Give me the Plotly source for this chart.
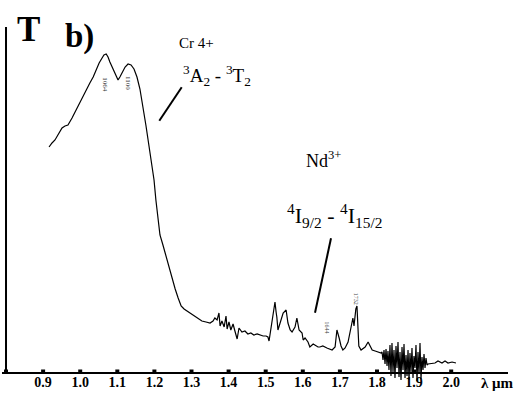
import plotly.graph_objects as go

# Transmission spectrum (arbitrary units)
wavelength_um = [
    0.916, 0.919, 0.924, 0.932, 0.940, 0.951, 0.959, 0.967, 0.978, 0.986,
    0.994, 1.002, 1.010, 1.018, 1.026, 1.035, 1.043, 1.051, 1.059, 1.064,
    1.070, 1.075, 1.080, 1.088, 1.096, 1.102, 1.107, 1.113, 1.121, 1.129,
    1.137, 1.145, 1.153, 1.161, 1.169, 1.177, 1.185, 1.194, 1.199, 1.204,
    1.210, 1.215, 1.223, 1.229, 1.237, 1.245, 1.250, 1.256, 1.264, 1.272,
    1.280, 1.288, 1.296, 1.307, 1.318, 1.328, 1.339, 1.350, 1.358, 1.363,
    1.369, 1.374, 1.377, 1.382, 1.388, 1.393, 1.396, 1.401, 1.406, 1.412,
    1.417, 1.423, 1.428, 1.436, 1.444, 1.452, 1.460, 1.468, 1.477, 1.485,
    1.493, 1.501, 1.506, 1.509, 1.512, 1.517, 1.520, 1.525, 1.528, 1.530,
    1.533, 1.536, 1.541, 1.547, 1.555, 1.560, 1.566, 1.571, 1.579, 1.584,
    1.590, 1.598, 1.601, 1.606, 1.614, 1.619, 1.628, 1.633, 1.641, 1.646,
    1.654, 1.665, 1.673, 1.679, 1.687, 1.692, 1.698, 1.703, 1.708, 1.714,
    1.722, 1.727, 1.733, 1.735, 1.738, 1.741, 1.743, 1.746, 1.749, 1.751,
    1.757, 1.762, 1.768, 1.776, 1.781, 1.787, 1.795, 1.803, 1.811,
    1.8135, 1.8162, 1.8189, 1.8216, 1.8243, 1.8270, 1.8296, 1.8323, 1.8350, 1.8377,
    1.8404, 1.8431, 1.8458, 1.8485, 1.8512, 1.8539, 1.8566, 1.8593, 1.8620, 1.8647,
    1.8674, 1.8701, 1.8728, 1.8755, 1.8782, 1.8809, 1.8836, 1.8863, 1.8889, 1.8916,
    1.8943, 1.8970, 1.8997, 1.9024, 1.9051, 1.9078, 1.9105, 1.9132, 1.9159, 1.9186,
    1.9213, 1.9240, 1.9267, 1.9294, 1.9321, 1.9348, 1.9375,
    1.9563, 1.9644, 1.9752, 1.9833, 1.9914, 2.0022, 2.0129,
]
transmission = [
    226, 228, 230, 233, 238, 245, 247, 248, 255, 261,
    266, 273, 278, 285, 290, 296, 303, 310, 315, 318,
    319, 316, 311, 304, 297, 293, 296, 301, 306, 309,
    308, 304, 296, 284, 268, 248, 228, 208, 193, 173,
    151, 138, 128, 120, 108, 98, 90, 84, 75, 67,
    64, 62, 60, 57, 55, 52, 51, 50, 52, 55,
    53, 60, 47, 52, 46, 57, 44, 51, 43, 49,
    42, 34, 45, 41, 42, 39, 40, 38, 39, 38,
    37, 37, 36, 32, 39, 50, 61, 71, 61, 56,
    43, 47, 53, 60, 63, 50, 43, 41, 46, 55,
    43, 40, 33, 35, 31, 26, 29, 28, 26, 26,
    27, 25, 24, 23, 26, 43, 35, 27, 23, 25,
    31, 41, 51, 55, 47, 60, 64, 67, 46, 27,
    23, 24, 26, 31, 27, 23, 22, 21, 20,
    21, 13, 23, 9, 24, 7, 22, 3, 28, -3,
    30, 1, 23, -5, 27, 5, 31, -4, 21, -7,
    26, 3, 29, -5, 18, -3, 23, -7, 20, 1,
    25, -5, 17, 5, 28, -8, 21, -1, 30, -6,
    16, 3, 19, 5, 15, 8, 9,
    10, 12, 10, 12, 10, 11, 10,
]

tick_vals = [0.8, 0.9, 1.0, 1.1, 1.2, 1.3, 1.4, 1.5, 1.6, 1.7, 1.8, 1.9, 2.0]
tick_text = ["", "0.9", "1.0", "1.1", "1.2", "1.3", "1.4", "1.5", "1.6", "1.7", "1.8", "1.9", "2.0"]

SERIF = "Liberation Serif"

fig = go.Figure()
fig.add_trace(go.Scatter(x=wavelength_um, y=transmission, mode="lines",
                         line=dict(color="black", width=1.2), hoverinfo="skip",
                         showlegend=False))
# square tick marks on the wavelength axis
fig.add_trace(go.Scatter(x=tick_vals, y=[1.5] * len(tick_vals), mode="markers",
                         marker=dict(symbol="square", size=4, color="black"),
                         hoverinfo="skip", showlegend=False, cliponaxis=False))
# tick labels under the axis
fig.add_trace(go.Scatter(x=tick_vals, y=[-10] * len(tick_vals), mode="text",
                         text=["<b>%s</b>" % t if t else "" for t in tick_text],
                         textposition="middle center",
                         textfont=dict(family=SERIF, size=14, color="black"),
                         hoverinfo="skip", showlegend=False, cliponaxis=False))

# vertical (T) axis line
fig.add_shape(type="line", x0=0.8, x1=0.8, y0=0, y1=346,
              line=dict(color="black", width=2), xref="x", yref="y")
# leader lines
fig.add_shape(type="line", x0=1.2132, y0=252.3, x1=1.2736, y1=285.7,
              line=dict(color="black", width=2), xref="x", yref="y")
fig.add_shape(type="line", x0=1.6329, y0=60.3, x1=1.6760, y1=134.7,
              line=dict(color="black", width=2), xref="x", yref="y")

def ann(x, y, text, size, bold=False, angle=0, color="black"):
    if bold:
        text = "<b>%s</b>" % text
    fig.add_annotation(x=x, y=y, xref="x", yref="y", text=text, showarrow=False,
                       xanchor="center", yanchor="middle", textangle=angle,
                       font=dict(family=SERIF, size=size, color=color))

ann(0.8606, 344, "T", 35, bold=True)
ann(0.9968, 337, "b)", 33, bold=True)
ann(1.3148, 330, "Cr 4+", 15)
ann(1.3700, 298, "<sup>3</sup>A<sub>2</sub> - <sup>3</sup>T<sub>2</sub>", 19)
ann(1.6571, 214, "Nd<sup>3+</sup>", 18)
ann(1.6841, 158, "<sup>4</sup>I<sub>9/2</sub> - <sup>4</sup>I<sub>15/2</sub>", 22)
ann(2.1235, -10, "λ μm", 15, bold=True)
# small handwritten peak marks
ann(1.0660, 288, "1064", 7, angle=90, color="#333333")
ann(1.1290, 290, "1100", 7, angle=90, color="#333333")
ann(1.6640, 46, "1644", 6, angle=90, color="#444444")
ann(1.7440, 74, "1732", 6, angle=90, color="#444444")

fig.update_layout(
    width=530, height=396,
    margin=dict(l=2, r=22, t=27, b=13),
    paper_bgcolor="white", plot_bgcolor="white",
    xaxis=dict(range=[0.7892, 2.1531], showgrid=False, zeroline=False,
               showline=False, showticklabels=False, ticks="", automargin=False),
    yaxis=dict(range=[-10, 346], showgrid=False, zeroline=True,
               zerolinecolor="black", zerolinewidth=2, showline=False,
               showticklabels=False, ticks="", automargin=False),
)

fig.write_html("out.html", post_script="document.body.style.margin='0';",
               config={"displayModeBar": False})
